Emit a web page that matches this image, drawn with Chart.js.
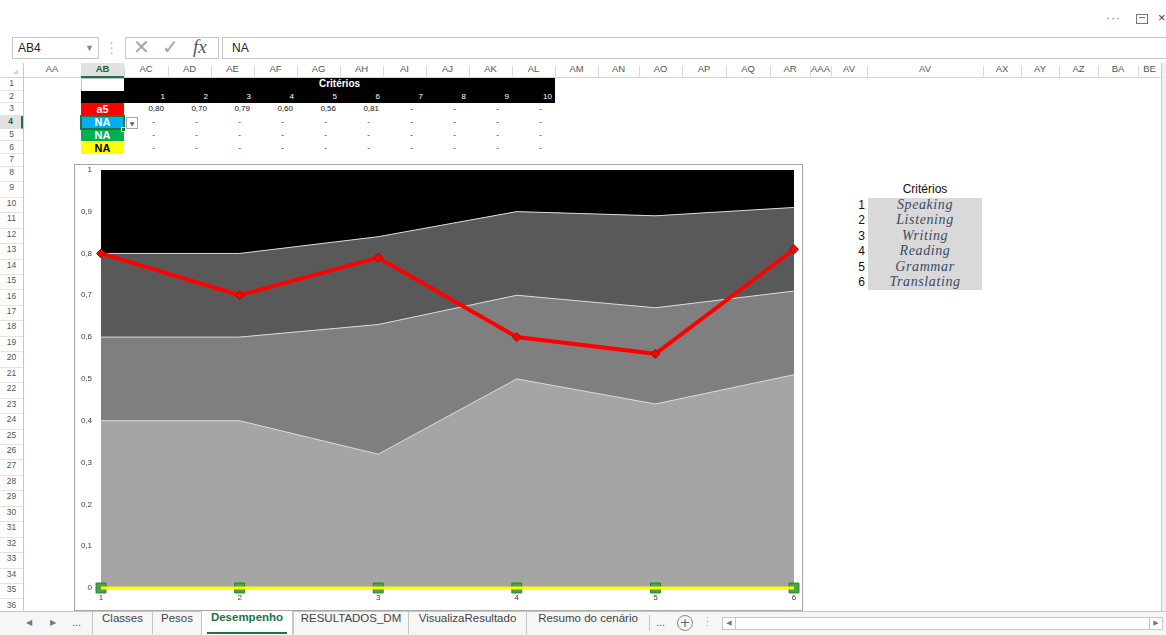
<!DOCTYPE html>
<html>
<head>
<meta charset="utf-8">
<script src="https://cdn.jsdelivr.net/npm/chart.js@4.4.1/dist/chart.umd.min.js"></script>
<style>
  body { margin:0; width:1166px; height:635px; overflow:hidden; background:#fff; position:relative;
         font-family:"Liberation Sans", Arial, sans-serif; }
  .a { position:absolute; box-sizing:border-box; white-space:nowrap; overflow:hidden; }
</style>
</head>
<body>
<script>
// ---------- dados ----------
const criterios = ['1', '2', '3', '4', '5', '6'];
const colunasCriterio = ['1', '2', '3', '4', '5', '6', '7', '8', '9', '10'];
const nomesCriterios = ['Speaking', 'Listening', 'Writing', 'Reading', 'Grammar', 'Translating'];
const alternativaA5 = [0.80, 0.70, 0.79, 0.60, 0.56, 0.81];
const limiteClasse1 = [1, 1, 1, 1, 1, 1];
const limiteClasse2 = [0.80, 0.80, 0.84, 0.90, 0.89, 0.91];
const limiteClasse3 = [0.60, 0.60, 0.63, 0.70, 0.67, 0.71];
const limiteClasse4 = [0.40, 0.40, 0.32, 0.50, 0.44, 0.51];
const naAzul = [0, 0, 0, 0, 0, 0];
const naVerde = [0, 0, 0, 0, 0, 0];
const naAmarelo = [0, 0, 0, 0, 0, 0];

// ---------- helpers ----------
function box(x, y, w, h, style, text) {
  const d = document.createElement('div');
  d.className = 'a';
  Object.assign(d.style, { left: x + 'px', top: y + 'px', width: w + 'px', height: h + 'px' }, style || {});
  if (text != null) d.textContent = text;
  document.body.appendChild(d);
  return d;
}
const virgula = v => v.toFixed(2).replace('.', ',');

// ---------- faixa superior ----------
box(1106, 11, 22, 14, { font: '12px "Liberation Sans"', color: '#777', letterSpacing: '1px' }, '···');
box(1136, 14, 12, 10, { border: '1px solid #777' });
box(1139, 17, 6, 1, { background: '#777' });
box(1158, 10, 10, 16, { font: '13px "Liberation Sans"', color: '#444' }, '×');

// ---------- barra de fórmulas ----------
box(12, 37, 87, 22, { border: '1px solid #c6c6c6' });
box(18, 37, 40, 22, { font: '12px "Liberation Sans"', color: '#222', lineHeight: '22px' }, 'AB4');
box(85, 37, 10, 22, { font: '9px "Liberation Sans"', color: '#888', lineHeight: '22px' }, '▼');
box(110, 41, 4, 16, { font: 'bold 11px "Liberation Sans"', color: '#bbb', lineHeight: '5px', whiteSpace: 'normal' }, '· · ·');
box(125, 37, 94, 22, { border: '1px solid #c6c6c6' });
box(133, 36, 20, 22, { font: '20px "DejaVu Sans"', color: '#a6a6a6', lineHeight: '22px' }, '✕');
box(162, 36, 20, 22, { font: '20px "DejaVu Sans"', color: '#a6a6a6', lineHeight: '22px' }, '✓');
box(193, 35, 24, 24, { font: 'italic 19px "Liberation Serif"', color: '#555', lineHeight: '24px' }, 'fx');
box(222, 37, 950, 22, { border: '1px solid #c6c6c6' });
box(232, 37, 40, 22, { font: '12px "Liberation Sans"', color: '#222', lineHeight: '22px' }, 'NA');

// ---------- cabeçalhos de colunas ----------
const colunas = [['AA',23,81],['AB',81,124],['AC',124,168],['AD',168,211],['AE',211,254],['AF',254,297],
  ['AG',297,340],['AH',340,383],['AI',383,426],['AJ',426,469],['AK',469,512],['AL',512,555],['AM',555,598],
  ['AN',598,639],['AO',639,682],['AP',682,726],['AQ',726,770],['AR',770,810],['AAA',810,831],['AV',831,867],
  ['AV',867,983],['AX',983,1021],['AY',1021,1059],['AZ',1059,1098],['BA',1098,1138],['BE',1138,1161]];
const HY = 63, HH = 15;
box(0, HY + HH - 1, 1161, 1, { background: '#d4d4d4' });
box(13, HY + 6, 0, 0, { borderLeft: '5px solid transparent', borderBottom: '5px solid #d0d0d0' });
colunas.forEach(([nome, x0, x1]) => {
  const sel = nome === 'AB';
  box(x0, HY, x1 - x0, HH, {
    textAlign: 'center', lineHeight: HH + 'px', font: (sel ? 'bold ' : '') + '9.5px "Liberation Sans"',
    color: sel ? '#1e5e3a' : '#555', background: sel ? '#e1e1e1' : 'transparent',
    borderBottom: sel ? '2px solid #217346' : 'none'
  }, nome);
  box(x1, HY + 3, 1, HH - 3, { background: '#dadada' });
});

// ---------- cabeçalhos de linhas ----------
const rowTop = n => n <= 7 ? 78 + (n - 1) * 12.7 : 166.9 + (n - 8) * 15.45;
const rowH = n => n <= 7 ? 12.7 : 15.45;
box(23, HY, 1, 611 - HY, { background: '#c6c6c6' });
for (let n = 1; n <= 36; n++) {
  const sel = n === 4;
  box(0, rowTop(n), 23, rowH(n), {
    textAlign: 'center', lineHeight: rowH(n) + 'px', font: (sel ? 'bold ' : '') + '8.5px "Liberation Sans"',
    color: sel ? '#1e5e3a' : '#555', background: sel ? '#e1e1e1' : 'transparent',
    borderRight: sel ? '2px solid #217346' : 'none', borderBottom: '1px solid #e3e3e3'
  }, String(n));
}

// ---------- tabela de desempenho ----------
const colX = nome => colunas.find(c => c[0] === nome);
const colunasDados = ['AC','AD','AE','AF','AG','AH','AI','AJ','AK','AL'];
box(81, rowTop(1), 44, rowH(1) + 1, { border: '1px solid #c0c0c0', background: '#fff' });
box(124, rowTop(1), 555 - 124, rowH(1) + 0.5, { background: '#000', color: '#fff', font: 'bold 10px "Liberation Sans"',
  textAlign: 'center', lineHeight: rowH(1) + 'px' }, 'Critérios');
box(81, rowTop(2), 555 - 81, rowH(2), { background: '#000' });
colunasDados.forEach((c, i) => {
  const [, x0, x1] = colX(c);
  box(x0, rowTop(2), x1 - x0 - 3, rowH(2), { color: '#fff', font: '8px "Liberation Sans"', textAlign: 'right',
    lineHeight: rowH(2) + 'px' }, colunasCriterio[i]);
});
const linhasAlt = [
  { n: 3, nome: 'a5', bg: '#ff0000', fg: '#fff', valores: alternativaA5 },
  { n: 4, nome: 'NA', bg: '#00b0f0', fg: '#fff', valores: [] },
  { n: 5, nome: 'NA', bg: '#00b050', fg: '#fff', valores: [] },
  { n: 6, nome: 'NA', bg: '#ffff00', fg: '#000', valores: [] }
];
linhasAlt.forEach(l => {
  box(81, rowTop(l.n), 43, rowH(l.n), { background: l.bg, color: l.fg, font: 'bold 11px "Liberation Sans"',
    textAlign: 'center', lineHeight: rowH(l.n) + 'px' }, l.nome);
  colunasDados.forEach((c, i) => {
    const [, x0, x1] = colX(c);
    const temValor = i < l.valores.length;
    box(x0, rowTop(l.n), x1 - x0 - (temValor ? 4 : 13), rowH(l.n), { color: '#111', font: '8px "Liberation Sans"',
      textAlign: 'right', lineHeight: rowH(l.n) + 'px' }, temValor ? virgula(l.valores[i]) : '-');
  });
});
// célula ativa AB4
box(80, rowTop(4) - 1, 45, rowH(4) + 2, { border: '2px solid #217346' });
box(121, rowTop(4) + rowH(4) - 2, 5, 5, { background: '#217346', border: '1px solid #fff' });
box(126, rowTop(4) + 0.5, 12, 12, { border: '1px solid #a6a6a6', background: '#fff', color: '#666',
  font: '6px "DejaVu Sans"', textAlign: 'center', lineHeight: '11px' }, '▼');

// ---------- legenda de critérios ----------
box(867, rowTop(9), 116, rowH(9), { font: '12px "Liberation Sans"', color: '#111', textAlign: 'center',
  lineHeight: rowH(9) + 'px' }, 'Critérios');
box(868, rowTop(10), 114, rowTop(16) - rowTop(10), { background: '#d9d9d9' });
nomesCriterios.forEach((nome, i) => {
  const n = 10 + i;
  box(831, rowTop(n), 34, rowH(n), { font: '12px "Liberation Sans"', color: '#111', textAlign: 'right',
    lineHeight: rowH(n) + 'px' }, criterios[i]);
  box(868, rowTop(n) - 1, 114, rowH(n) + 1, { font: 'italic 14px "Liberation Serif"', color: '#3b4a66',
    textAlign: 'center', lineHeight: rowH(n) + 'px', letterSpacing: '0.6px' }, nome);
});

// ---------- borda direita / rolagem vertical ----------
box(1161, HY, 1, 611 - HY, { background: '#c6c6c6' });
box(1162, HY, 4, 611 - HY, { background: '#f0f0f0' });

// ---------- objeto gráfico ----------
const moldura = box(74, 164, 729, 447, { border: '1px solid #a6a6a6', background: '#fff' });
const canvas = document.createElement('canvas');
canvas.width = 727; canvas.height = 455;
Object.assign(canvas.style, { display: 'block', position: 'absolute', left: '0px', top: '-9px' });
moldura.appendChild(canvas);

const fonteEixo = { family: '"Liberation Sans", Arial, sans-serif', size: 8 };
new Chart(canvas.getContext('2d'), {
  type: 'line',
  data: {
    labels: criterios,
    datasets: [
      { label: 'a5', data: alternativaA5, borderColor: '#ff0000', borderWidth: 4, fill: false,
        pointStyle: 'rectRot', pointRadius: 4.5, pointBackgroundColor: '#ff0000', pointBorderColor: '#b00000',
        pointBorderWidth: 1, clip: false },
      { label: 'NA amarelo', data: naAmarelo, borderColor: '#ffff00', borderWidth: 3, fill: false,
        pointRadius: 0, clip: false },
      { label: 'NA verde', data: naVerde, borderColor: '#3f9e3f', borderWidth: 2, fill: false,
        pointStyle: 'rect', pointRadius: 7, pointBackgroundColor: '#46a546', pointBorderColor: '#2f7f2f',
        pointBorderWidth: 1, clip: false },
      { label: 'NA azul', data: naAzul, borderColor: '#00b0f0', borderWidth: 2, fill: false,
        pointRadius: 0, clip: false },
      { label: 'Classe 1', data: limiteClasse1, borderWidth: 0, borderColor: '#000', backgroundColor: '#000000',
        fill: '+1', pointRadius: 0 },
      { label: 'Classe 2', data: limiteClasse2, borderWidth: 1, borderColor: '#d9d9d9', backgroundColor: '#595959',
        fill: '+1', pointRadius: 0 },
      { label: 'Classe 3', data: limiteClasse3, borderWidth: 1, borderColor: '#d9d9d9', backgroundColor: '#7f7f7f',
        fill: '+1', pointRadius: 0 },
      { label: 'Classe 4', data: limiteClasse4, borderWidth: 1, borderColor: '#d9d9d9', backgroundColor: '#a5a5a5',
        fill: 'origin', pointRadius: 0 }
    ]
  },
  options: {
    responsive: false,
    animation: false,
    events: [],
    elements: { line: { tension: 0 } },
    layout: { padding: { top: 5, right: 7, left: 0, bottom: 0 } },
    plugins: {
      legend: { display: false },
      tooltip: { enabled: false },
      filler: { drawTime: 'beforeDatasetsDraw' }
    },
    scales: {
      x: {
        type: 'category', offset: false,
        grid: { display: false, drawTicks: false }, border: { display: false },
        ticks: { color: '#404040', font: fonteEixo, padding: 5, maxRotation: 0 },
        afterFit: s => { s.height = 23; }
      },
      y: {
        min: 0, max: 1,
        grid: { display: false, drawTicks: false }, border: { display: false },
        ticks: { stepSize: 0.1, color: '#404040', font: fonteEixo, padding: 9,
          callback: v => String(Math.round(v * 10) / 10).replace('.', ',') },
        afterFit: s => { s.width = 26; }
      }
    }
  }
});

// ---------- abas de planilhas ----------
box(0, 611, 1166, 24, { background: '#f6f6f6', borderTop: '1px solid #c6c6c6' });
box(26, 612, 12, 22, { font: '8px "DejaVu Sans"', color: '#777', lineHeight: '22px' }, '◀');
box(50, 612, 12, 22, { font: '8px "DejaVu Sans"', color: '#777', lineHeight: '22px' }, '▶');
box(72, 612, 14, 22, { font: '11px "Liberation Sans"', color: '#555', lineHeight: '20px' }, '...');
const abas = [['Classes', 92, 152], ['Pesos', 152, 201], ['Desempenho', 201, 293], ['RESULTADOS_DM', 293, 408],
  ['VisualizaResultado', 408, 526], ['Resumo do cenário', 526, 649]];
abas.forEach(([nome, x0, x1]) => {
  const ativa = nome === 'Desempenho';
  box(x0, ativa ? 611 : 612, x1 - x0, ativa ? 24 : 22, {
    textAlign: 'center', lineHeight: '22px', font: (ativa ? 'bold ' : '') + '11.5px "Liberation Sans"',
    color: ativa ? '#217346' : '#444', background: ativa ? '#fff' : 'transparent',
    borderLeft: '1px solid #c6c6c6', borderRight: ativa ? '1px solid #c6c6c6' : 'none'
  }, nome);
});
box(207, 632, 80, 2, { background: '#217346' });
box(649, 615, 1, 16, { background: '#c6c6c6' });
box(656, 612, 14, 22, { font: '11px "Liberation Sans"', color: '#555', lineHeight: '20px' }, '...');
box(677, 615, 16, 16, { border: '1px solid #888', borderRadius: '50%', color: '#666', font: '13px "DejaVu Sans"',
  textAlign: 'center', lineHeight: '14px' }, '+');
box(706, 616, 4, 14, { font: 'bold 9px "Liberation Sans"', color: '#bbb', lineHeight: '4px', whiteSpace: 'normal' }, '· · ·');
box(722, 617, 441, 13, { border: '1px solid #c6c6c6', background: '#fff' });
box(722, 617, 14, 13, { border: '1px solid #c6c6c6', font: '7px "DejaVu Sans"', color: '#777', textAlign: 'center', lineHeight: '11px' }, '◀');
box(1149, 617, 14, 13, { border: '1px solid #c6c6c6', font: '7px "DejaVu Sans"', color: '#777', textAlign: 'center', lineHeight: '11px' }, '▶');
</script>
</body>
</html>
